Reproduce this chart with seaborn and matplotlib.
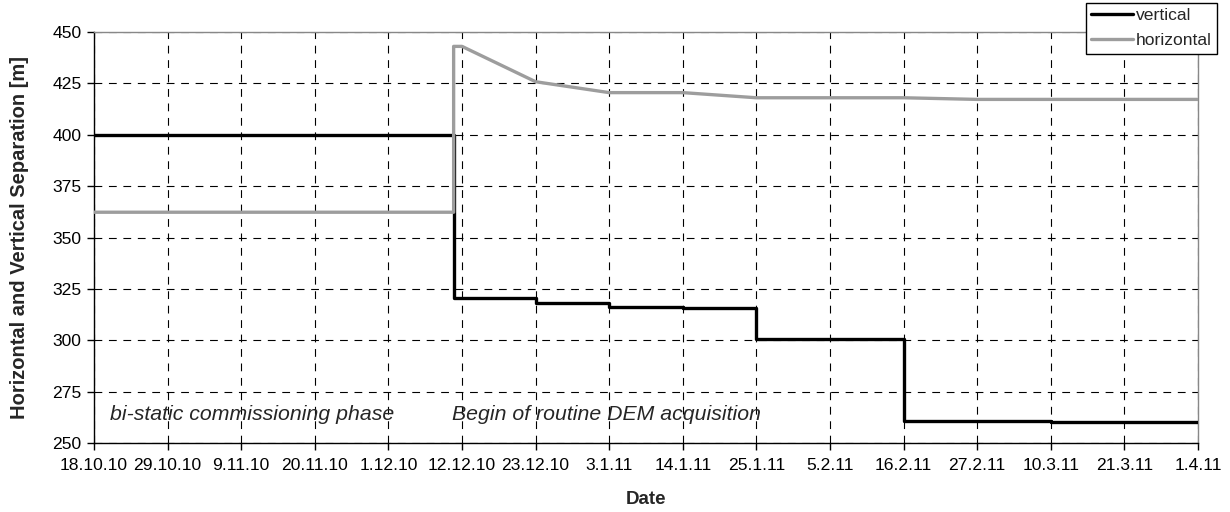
import matplotlib
matplotlib.use("Agg")
import matplotlib.pyplot as plt
import pandas as pd
import seaborn as sns

# Axis ticks (every 11 days)
tick_labels = ["18.10.10", "29.10.10", "9.11.10", "20.11.10", "1.12.10", "12.12.10",
               "23.12.10", "3.1.11", "14.1.11", "25.1.11", "5.2.11", "16.2.11",
               "27.2.11", "10.3.11", "21.3.11", "1.4.11"]
y_ticks = [250, 275, 300, 325, 350, 375, 400, 425, 450]

# Vertical separation (piecewise constant, steps after each manoeuvre)
vert_dates = ["2010-10-18 00:00", "2010-12-10 18:00", "2010-12-23 00:00", "2011-01-03 00:00",
              "2011-01-14 00:00", "2011-01-25 00:00", "2011-02-16 00:00", "2011-03-10 00:00",
              "2011-04-01 00:00"]
vert_values = [400.0, 320.5, 318.0, 316.4, 315.5, 300.5, 260.8, 260.0, 260.0]

# Horizontal separation
horiz_dates = ["2010-10-18 00:00", "2010-12-10 18:00", "2010-12-10 18:00", "2010-12-12 00:00",
               "2010-12-23 00:00", "2011-01-03 00:00", "2011-01-14 00:00", "2011-01-25 00:00",
               "2011-02-16 00:00", "2011-02-27 00:00", "2011-04-01 00:00"]
horiz_values = [362.3, 362.3, 443.0, 443.0, 425.8, 420.5, 420.5, 418.0, 418.0, 417.2, 417.2]

sns.set_style("white")
plt.rcParams["font.family"] = ["Liberation Sans", "DejaVu Sans"]

fig = plt.figure(figsize=(12.3, 5.12), dpi=100)
ax = fig.add_axes([94 / 1230, 1 - 443 / 512, 1104 / 1230, 411 / 512])

tick_dates = pd.to_datetime(tick_labels, format="%d.%m.%y")
fmt = "%Y-%m-%d %H:%M"

sns.lineplot(x=pd.to_datetime(vert_dates, format=fmt), y=vert_values, estimator=None,
             sort=False, drawstyle="steps-post", color="black", linewidth=2.4,
             label="vertical", ax=ax, zorder=3)
sns.lineplot(x=pd.to_datetime(horiz_dates, format=fmt), y=horiz_values, estimator=None,
             sort=False, color="#9d9d9d", linewidth=2.4, label="horizontal", ax=ax, zorder=4)

ax.set_xlim(tick_dates[0], tick_dates[-1])
ax.set_ylim(250, 450)
ax.set_xticks(tick_dates)
ax.set_xticklabels(tick_labels, fontsize=12.6)
ax.set_yticks(y_ticks)
ax.set_yticklabels([str(v) for v in y_ticks], fontsize=12.6)

ax.grid(True, color="black", linewidth=0.8, linestyle=(0, (7, 6)))
ax.set_axisbelow(True)
ax.tick_params(axis="both", direction="out", length=5, width=1, color="black",
               bottom=True, left=True, labelcolor="black")
ax.tick_params(axis="x", pad=6)
ax.tick_params(axis="y", pad=4)

for side in ("left", "bottom"):
    ax.spines[side].set_color("black")
    ax.spines[side].set_linewidth(1.0)
for side in ("top", "right"):
    ax.spines[side].set_color("#888888")
    ax.spines[side].set_linewidth(1.0)

ax.set_xlabel("Date", fontsize=13.5, fontweight="bold")
ax.set_ylabel("Horizontal and Vertical Separation [m]", fontsize=14.5, fontweight="bold")
ax.xaxis.set_label_coords(0.5, -0.118)
ax.yaxis.set_label_coords(-0.0589, 0.5)

ax.text(pd.Timestamp("2010-10-20 10:00"), 264, "bi-static commissioning phase",
        fontsize=15.3, fontstyle="italic", va="center", ha="left")
ax.text(pd.Timestamp("2010-12-10 12:00"), 264, "Begin of routine DEM acquisition",
        fontsize=15.3, fontstyle="italic", va="center", ha="left")

leg = ax.legend(loc="upper right", bbox_to_anchor=(1217 / 1230, 1 - 3 / 512),
                bbox_transform=fig.transFigure, borderaxespad=0, fontsize=12.6,
                handlelength=2.4, handletextpad=0.15, borderpad=0.3, labelspacing=0.55,
                fancybox=False, framealpha=1, edgecolor="black")
leg.get_frame().set_linewidth(1.0)
leg.set_zorder(10)

fig.savefig("out.png", dpi=100)
